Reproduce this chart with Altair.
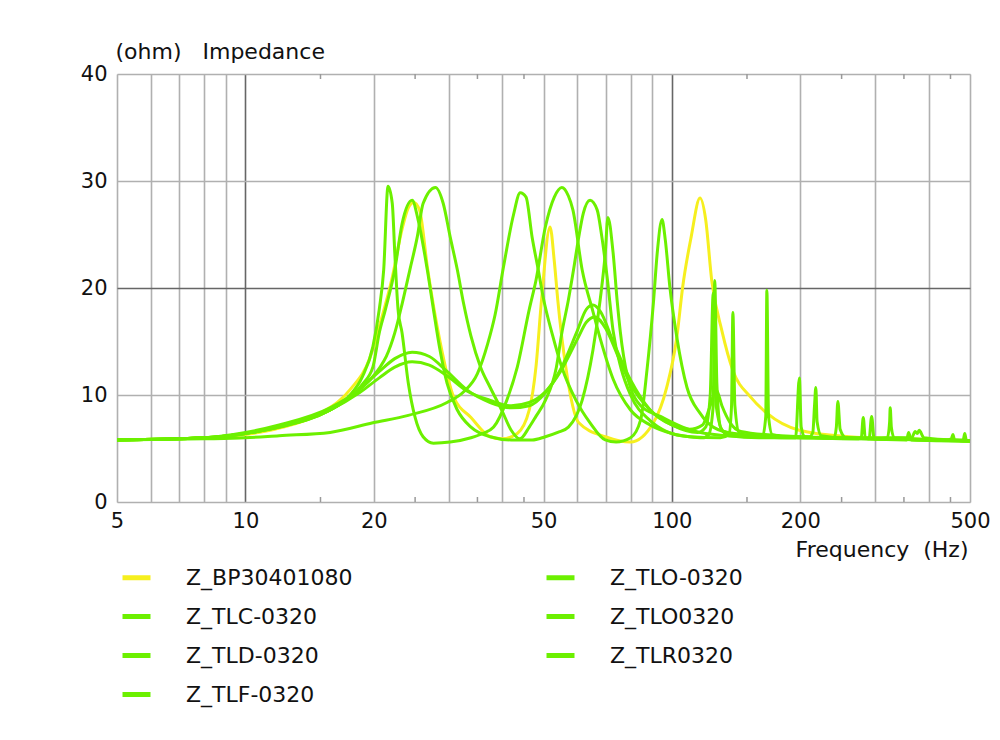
import altair as alt
import pandas as pd

# ---------------- data ----------------
names = ["Z_BP30401080", "Z_TLC-0320", "Z_TLD-0320", "Z_TLF-0320",
         "Z_TLO-0320", "Z_TLO0320", "Z_TLR0320"]

f_bp = [5, 8, 10, 12, 15, 17.6, 19.6, 20.6, 22.1, 23.3, 24.1, 24.8, 25.6, 26.7, 28.6, 30.8, 33.8, 37.5, 40,
        43.4, 46.3, 48, 49.5, 51.8, 53, 54, 56.4, 60.5, 69.8, 80, 90.5, 97.2, 102.7, 106, 111, 116.4, 120,
        124, 131, 139, 153, 167, 199, 260, 350, 500]
v_bp = [5.8, 6.0, 6.3, 6.9, 8.3, 10.5, 13.5, 16.4, 21.0, 25.5, 27.5, 28.0, 27.3, 22.0, 15.0, 9.8, 7.9, 6.1, 5.9,
        6.4, 8.6, 12.6, 19.0, 25.7, 22.5, 18.9, 12.6, 7.4, 6.1, 5.6, 7.4, 10.7, 15.4, 20.1, 24.8, 28.4, 26.4,
        20.7, 16.0, 12.3, 9.8, 8.3, 6.7, 6.1, 5.9, 5.7]

f_tlc = [5, 8, 10, 12, 13.5, 15.8, 17.6, 18.8, 19.9, 20.6, 21.1, 21.6, 22.1, 22.4, 22.8, 23.3, 24.1, 25.0,
         26.1, 27.6, 30.2, 33.8, 36, 38.2, 41, 43.4, 46.3, 48, 50.5, 53, 55.2, 57.2, 58.6, 61.6, 65.3, 68,
         72.8, 80, 88.9, 100, 110, 118, 122, 125, 126, 127.5, 130, 136, 160, 195, 199, 201, 205, 250, 290,
         294, 298, 400, 500]
v_tlc = [5.8, 6.0, 6.4, 7.0, 7.6, 8.6, 10.0, 11.7, 14.5, 18.0, 21.7, 29.5, 27.9, 23.3, 18.0, 15.8, 11.1, 7.9,
         6.1, 5.5, 5.6, 6.0, 6.4, 7.0, 9.5, 12.6, 18.0, 20.7, 25.7, 28.5, 29.4, 28.6, 27.3, 21.7, 17.8, 15.2,
         11.5, 8.6, 7.2, 6.4, 6.1, 6.0, 6.3, 9.0, 20.7, 11.0, 7.0, 6.2, 6.0, 6.0, 11.6, 7.0, 6.1, 5.9, 5.9,
         8.0, 5.9, 5.8, 5.7]

f_tld = [5, 8, 10, 12, 15.8, 18.5, 20.6, 21.4, 22.4, 23.3, 24.3, 25.3, 26.1, 27.9, 29.1, 30.2, 31.4, 32.5,
         33.8, 35.6, 37.5, 40, 42, 44, 46.3, 48, 50.5, 53.6, 55.2, 57.2, 58.8, 60.5, 62, 64.3, 66.8, 68.5,
         70.5, 72.8, 76, 80, 88.9, 97, 110, 130, 136, 138, 139, 140.5, 144, 160, 200, 240, 243, 245, 248,
         256, 355, 359, 364, 500]
v_tld = [5.8, 6.0, 6.4, 7.0, 8.6, 10.5, 12.5, 13.6, 15.8, 18.5, 21.7, 24.8, 27.9, 29.4, 27.9, 24.8, 21.7, 18.5,
         15.5, 12.6, 10.7, 8.5, 6.7, 5.9, 7.0, 8.0, 9.5, 12.6, 15.8, 18.9, 21.7, 24.8, 27.0, 28.2, 27.3, 24.8,
         21.0, 16.0, 12.5, 10.0, 7.6, 6.6, 6.1, 6.0, 6.3, 9.0, 17.7, 9.0, 6.4, 6.1, 6.0, 6.0, 7.0, 9.4, 6.8,
         6.0, 5.8, 6.5, 5.8, 5.7]

f_tlf = [5, 8, 10, 12, 15.8, 17.6, 18.8, 19.9, 20.6, 21.3, 22.4, 23.3, 24.6, 25.4, 26.7, 27.6, 28.6, 29.7,
         31.4, 33.8, 37.5, 42, 47, 50.5, 54, 57.2, 61.6, 65.3, 67.9, 69.8, 70.8, 72.8, 74.5, 75.7, 78.6, 84.5,
         94, 106, 120, 150, 163, 166, 167, 168.5, 172, 200, 300, 320, 324, 325, 327, 332, 450, 482, 486, 490,
         500]
v_tlf = [5.8, 6.0, 6.4, 7.0, 8.6, 9.8, 11.0, 12.6, 15.8, 18.0, 21.7, 26.0, 28.2, 26.4, 21.7, 18.0, 14.2, 11.1,
         8.6, 7.0, 6.1, 5.8, 5.8, 6.1, 6.5, 7.0, 9.5, 14.2, 18.9, 23.3, 26.6, 23.3, 18.6, 15.9, 11.8, 9.0,
         8.0, 7.0, 6.4, 6.1, 6.1, 8.0, 19.8, 8.0, 6.3, 6.0, 5.9, 6.0, 7.5, 8.8, 7.0, 6.0, 5.8, 5.8, 6.4, 5.8,
         5.7]

f_tlo_a = [5, 8, 10, 12, 15.8, 19.9, 24.1, 29.7, 32.5, 35, 37, 38.5, 40.3, 42.5, 44.1, 45.5, 47, 48.6,
           50, 52.5, 55.2, 59.6, 64.3, 69.8, 74, 80, 84.5, 87.4, 90.5, 92.5, 94.8, 96.5, 98.9, 102.7, 108.5,
           116.4, 125, 140, 180, 210, 214, 216, 217.5, 219, 224, 270, 278, 281, 284, 290, 440, 452, 456, 460,
           500]
v_tlo_a = [5.8, 5.9, 6.0, 6.2, 6.5, 7.4, 8.1, 9.3, 10.3, 12.0, 14.8, 17.5, 22.0, 26.8, 28.9, 28.5, 24.8,
           21.7, 19.0, 15.6, 12.6, 9.5, 7.4, 5.8, 5.6, 6.0, 7.7, 12.3, 18.6, 23.5, 26.4, 24.5, 20.1, 15.4,
           10.7, 8.3, 7.0, 6.4, 6.1, 6.1, 6.5, 9.0, 10.7, 7.5, 6.2, 5.9, 6.0, 7.9, 6.0, 5.9, 5.8, 5.9, 6.3,
           5.8, 5.7]

f_tlo_b = [5, 8, 10, 12, 15.8, 18.5, 20.6, 22.4, 24.6, 27, 29.7, 33, 37.5, 42, 46.3, 50.5, 55, 60, 63, 65.3,
           68, 72.8, 80, 88.9, 100, 110, 118, 123, 127, 131, 137, 145, 180, 250, 365, 372, 376, 380, 390, 500]
v_tlo_b = [5.8, 6.0, 6.5, 7.2, 8.8, 10.5, 12.2, 13.4, 14.0, 13.6, 12.2, 10.5, 9.3, 8.8, 9.0, 10.2, 12.5, 16.0,
           18.0, 18.4, 17.8, 15.0, 11.4, 8.6, 7.2, 6.8, 7.2, 9.0, 10.5, 9.0, 7.4, 6.6, 6.2, 6.0, 6.0, 6.6,
           6.4, 6.7, 6.0, 5.7]

f_tlr = [5, 8, 10, 12, 15.8, 18.5, 20.6, 22.4, 24.6, 27, 29.7, 33, 37.5, 42, 46.3, 50.5, 55, 60, 63, 66, 70,
         75, 80, 88.9, 100, 115, 120, 123, 125, 127, 132, 150, 200, 260, 300, 500]
v_tlr = [5.8, 6.0, 6.4, 7.1, 8.6, 10.2, 11.6, 12.6, 13.1, 12.8, 11.8, 10.4, 9.5, 9.0, 9.3, 10.3, 12.3, 15.2,
         16.8, 17.3, 16.2, 13.5, 11.0, 8.6, 7.2, 6.5, 7.0, 10.0, 19.5, 9.0, 6.6, 6.2, 6.0, 6.0, 5.9, 5.7]

series_f = [f_bp, f_tlc, f_tld, f_tlf, f_tlo_a, f_tlo_b, f_tlr]
series_v = [v_bp, v_tlc, v_tld, v_tlf, v_tlo_a, v_tlo_b, v_tlr]

x_grid = [5, 6, 7, 8, 9, 10, 20, 30, 40, 50, 60, 70, 80, 90, 100, 200, 300, 400, 500]
x_labels = [5, 10, 20, 50, 100, 200, 500]
y_ticks = [0, 10, 20, 30, 40]
minor_ticks = [15, 25, 35, 45, 150, 250, 350, 450]

YELLOW = "#f6ef1e"
GREEN = "#6cf000"

# ---------------- build tables ----------------
rows = []
for name, fs, vs in zip(names, series_f, series_v):
    for f, v in zip(fs, vs):
        rows.append({"series": name, "freq": f, "ohm": v})
df = pd.DataFrame(rows)
df_yellow = df[df["series"] == names[0]]
df_green = df[df["series"] != names[0]]
df_minor = pd.DataFrame({"freq": minor_ticks})

legend_colors = [YELLOW if n == names[0] else GREEN for n in names]

FONT = "DejaVu Sans"
FS_TICK = 21
FS_TEXT = 22

x_scale = alt.Scale(type="log", domain=[5, 500], nice=False)
y_scale = alt.Scale(domain=[0, 40], nice=False)

label_list = ",".join(str(v) for v in x_labels)
x_axis = alt.Axis(
    values=x_grid,
    labelExpr=f"indexof([{label_list}], datum.value) >= 0 ? format(datum.value, 'd') : ''",
    grid=True,
    gridColor={"condition": {"test": "datum.value == 10 || datum.value == 100", "value": "#666666"},
               "value": "#b0b0b0"},
    gridWidth=1.6,
    ticks=False,
    domain=False,
    labelFontSize=FS_TICK,
    labelFont=FONT,
    labelColor="#111",
    labelPadding=8,
    labelFlush=False,
    labelOverlap=False,
    title="Frequency\u00a0\u00a0(Hz)",
    titleFont=FONT,
    titleFontSize=FS_TEXT,
    titleFontWeight="normal",
    titleColor="#111",
    titleAlign="right",
    titleBaseline="alphabetic",
    titleX=851,
    titleY=54,
)
y_axis = alt.Axis(
    values=y_ticks,
    grid=True,
    gridColor={"condition": {"test": "datum.value == 20", "value": "#666666"}, "value": "#b0b0b0"},
    gridWidth=1.6,
    ticks=False,
    domain=False,
    labelFontSize=FS_TICK,
    labelFont=FONT,
    labelColor="#111",
    labelPadding=10,
    title="(ohm)\u00a0\u00a0\u00a0Impedance",
    titleFont=FONT,
    titleFontSize=FS_TEXT,
    titleFontWeight="normal",
    titleColor="#111",
    titleAngle=0,
    titleAlign="left",
    titleBaseline="alphabetic",
    titleX=-2,
    titleY=-16,
)

color = alt.Color(
    "series:N",
    scale=alt.Scale(domain=names, range=legend_colors),
    legend=alt.Legend(
        orient="none", legendX=3, legendY=487, columns=2, columnPadding=183,
        rowPadding=11, symbolType="stroke", symbolStrokeWidth=5, symbolSize=784,
        labelFontSize=FS_TEXT, labelFont=FONT, labelColor="#111", labelOffset=33,
        labelLimit=400, title=None, padding=0,
    ),
)

x_enc = alt.X("freq:Q", scale=x_scale, axis=x_axis)
y_enc = alt.Y("ohm:Q", scale=y_scale, axis=y_axis)

line_y = alt.Chart(df_yellow).mark_line(strokeWidth=3, interpolate="monotone").encode(
    x=x_enc, y=y_enc, color=color)
line_g = alt.Chart(df_green).mark_line(strokeWidth=3, interpolate="monotone").encode(
    x=x_enc, y=y_enc, color=color, detail="series:N")

tick_bottom = alt.Chart(df_minor).mark_rule(color="#999", strokeWidth=1.5).encode(
    x=x_enc, y=alt.value(423), y2=alt.value(428))
tick_top = alt.Chart(df_minor).mark_rule(color="#999", strokeWidth=1.5).encode(
    x=x_enc, y=alt.value(0), y2=alt.value(5))

chart = alt.layer(tick_bottom, tick_top, line_y, line_g).properties(
    width=853, height=428,
    autosize=alt.AutoSizeParams(type="none"),
    padding={"left": 109, "top": 66, "right": 20, "bottom": 230},
).configure_view(stroke="#555", strokeWidth=2).configure(font=FONT, background="white")

chart.save("out.html", embed_options={"renderer": "svg", "actions": False})
